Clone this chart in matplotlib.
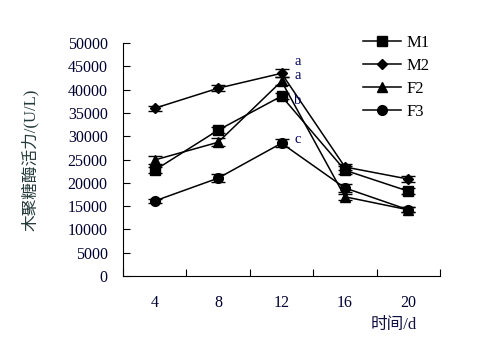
import numpy as np
import matplotlib
matplotlib.use("Agg")
import matplotlib.pyplot as plt

plt.rcParams['font.family'] = ['Liberation Serif', 'Noto Sans CJK SC']

days = ['4', '8', '12', '16', '20']
m1 = [22700, 31300, 38600, 22700, 18200]
m2 = [36000, 40300, 43500, 23400, 20800]
f2 = [24900, 28700, 41800, 17000, 14200]
f3 = [16100, 21000, 28500, 18900, 14200]
m1_err = [600, 700, 700, 900, 600]
m2_err = [500, 600, 900, 700, 600]
f2_err = [900, 900, 900, 700, 500]
f3_err = [500, 900, 900, 900, 500]
sig_labels = ['a', 'a', 'b', 'c']
sig_values = [46000, 43000, 37600, 29300]

fig = plt.figure(figsize=(4.83, 3.59), dpi=100)
ax = fig.add_axes([0.2547, 0.2312, 0.6563, 0.649])

x = np.arange(len(days))
series = [('M1', m1, m1_err, 's', 7), ('M2', m2, m2_err, 'D', 5),
          ('F2', f2, f2_err, '^', 7), ('F3', f3, f3_err, 'o', 7)]
handles = []
for name, vals, err, mk, ms in series:
    eb = ax.errorbar(x, vals, yerr=err, color='black', marker=mk, markersize=ms,
                     linewidth=1.1, elinewidth=1, capsize=5, capthick=1, label=name)
    handles.append(eb.lines[0])

for lab, v in zip(sig_labels, sig_values):
    ax.text(2.2, v, lab, fontsize=10.5, color='#00005a', va='center')

ax.set_xlim(-0.5, 4.5)
ax.set_ylim(0, 50000)
ax.set_yticks(np.arange(0, 50001, 5000))
ax.set_xticks(np.arange(-0.5, 4.6, 1))
ax.set_xticklabels([])
ax.set_xticks(x, minor=True)
ax.set_xticklabels(days, minor=True)
ax.tick_params(axis='x', which='minor', length=0, pad=14, labelsize=11.5, labelcolor='#000030')
ax.tick_params(axis='x', which='major', direction='in', length=5)
ax.tick_params(axis='y', direction='in', length=5, labelsize=11.5, labelcolor='#000030', pad=11)
for s in ['top', 'right']:
    ax.spines[s].set_visible(False)

ax.set_ylabel('木聚糖酶活力/(U/L)', fontsize=12, color='#243a3a')
ax.yaxis.set_label_coords(-0.265, 0.5)
fig.text(0.815, 0.094, '时间/d', fontsize=12, color='#101040', ha='center', va='center')

ax.legend(handles, [s[0] for s in series], loc='upper left', bbox_to_anchor=(0.71, 1.1),
          frameon=False, fontsize=12, handlelength=2.3, labelspacing=0.42, handletextpad=0.3)

fig.savefig('out.png', dpi=100)
